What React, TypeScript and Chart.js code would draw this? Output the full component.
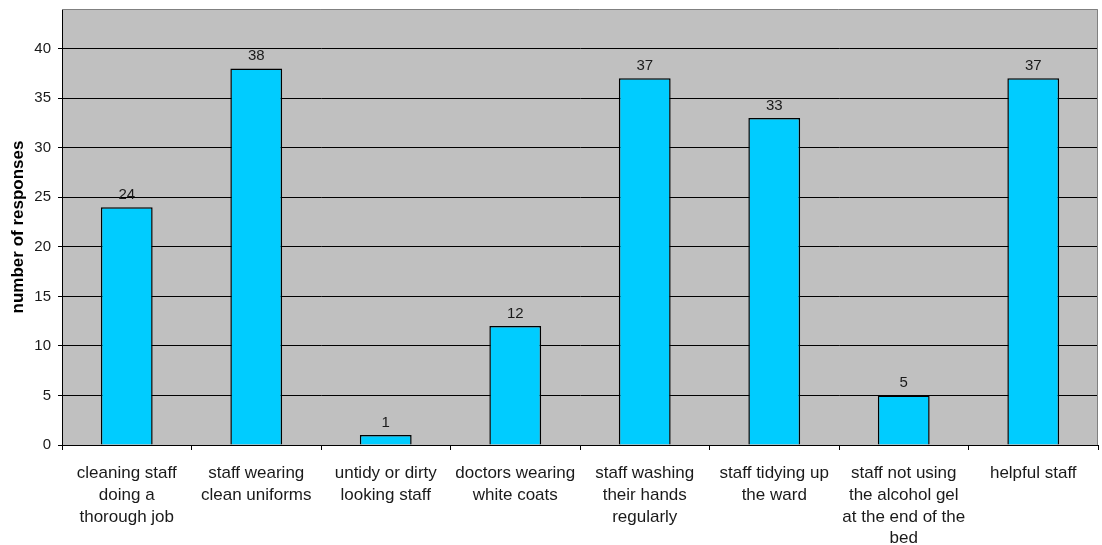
import React, { useEffect, useRef } from "react";
import { Chart, registerables } from "chart.js";

Chart.register(...registerables);

const categories: string[][] = [
  ["cleaning staff", "doing a", "thorough job"],
  ["staff wearing", "clean uniforms"],
  ["untidy or dirty", "looking staff"],
  ["doctors wearing", "white coats"],
  ["staff washing", "their hands", "regularly"],
  ["staff tidying up", "the ward"],
  ["staff not using", "the alcohol gel", "at the end of the", "bed"],
  ["helpful staff"],
];
const responses: number[] = [24, 38, 1, 12, 37, 33, 5, 37];
const yTickValues: number[] = [0, 5, 10, 15, 20, 25, 30, 35, 40];
const yAxisTitle = "number of responses";

const FONT = "'Liberation Sans', Arial, Helvetica, sans-serif";

const plotBg = {
  id: "plotBg",
  beforeDraw(chart: any) {
    const { ctx, chartArea: a } = chart;
    ctx.save();
    ctx.fillStyle = "#C0C0C0";
    ctx.fillRect(a.left, a.top, a.right - a.left, a.bottom - a.top);
    ctx.restore();
  },
  afterDraw(chart: any) {
    const { ctx, chartArea: a } = chart;
    ctx.save();
    ctx.strokeStyle = "#808080";
    ctx.lineWidth = 1;
    ctx.beginPath();
    ctx.moveTo(a.left, a.top + 0.5);
    ctx.lineTo(a.right - 0.5, a.top + 0.5);
    ctx.lineTo(a.right - 0.5, a.bottom);
    ctx.stroke();
    ctx.restore();
  },
};

const valueLabels = {
  id: "valueLabels",
  afterDatasetsDraw(chart: any) {
    const { ctx } = chart;
    const meta = chart.getDatasetMeta(0);
    const data = chart.data.datasets[0].data as number[];
    ctx.save();
    ctx.fillStyle = "#1a1a1a";
    ctx.font = `15px ${FONT}`;
    ctx.textAlign = "center";
    ctx.textBaseline = "alphabetic";
    meta.data.forEach((el: any, i: number) => {
      ctx.fillText(String(data[i]), el.x, el.y - 8);
    });
    ctx.restore();
  },
};

export default function App() {
  const ref = useRef<HTMLCanvasElement | null>(null);
  useEffect(() => {
    if (!ref.current) return;
    const chart = new Chart(ref.current, {
      type: "bar",
      data: {
        labels: categories,
        datasets: [
          {
            data: responses,
            backgroundColor: "#00CCFF",
            borderColor: "#000000",
            borderWidth: 1.5,
            categoryPercentage: 0.8,
            barPercentage: 0.5,
          },
        ],
      },
      options: {
        animation: false,
        responsive: false,
        maintainAspectRatio: false,
        layout: { padding: { top: 9, right: 4, left: 0, bottom: 0 } },
        plugins: { legend: { display: false }, tooltip: { enabled: false } },
        scales: {
          x: {
            grid: {
              display: true,
              drawOnChartArea: false,
              drawTicks: true,
              tickLength: 5,
              color: "#000",
              offset: true,
            },
            border: { display: true, color: "#000", width: 1 },
            ticks: {
              color: "#1a1a1a",
              font: { family: FONT, size: 17, lineHeight: 1.27 },
              maxRotation: 0,
              minRotation: 0,
              autoSkip: false,
              padding: 13,
            },
            afterFit(scale: any) {
              scale.height = 100;
              scale.paddingLeft = 0;
              scale.paddingRight = 0;
            },
          },
          y: {
            min: 0,
            max: 44,
            afterBuildTicks(scale: any) {
              scale.ticks = yTickValues.map((v) => ({ value: v }));
            },
            grid: { color: "#000", tickLength: 4, lineWidth: 1 },
            border: { display: true, color: "#000", width: 1 },
            ticks: {
              color: "#1a1a1a",
              font: { family: FONT, size: 15 },
              padding: 7,
            },
            title: {
              display: true,
              text: yAxisTitle,
              color: "#000",
              font: { family: FONT, size: 17, weight: "bold" },
              padding: { top: 8, bottom: 0 },
            },
            afterFit(scale: any) {
              scale.width = 62;
              scale.paddingTop = 0;
              scale.paddingBottom = 0;
            },
          },
        },
      },
      plugins: [plotBg, valueLabels],
    } as any);
    return () => chart.destroy();
  }, []);
  return (
    <div style={{ position: "fixed", left: 0, top: 0, width: 1102, height: 545, background: "#fff" }}>
      <canvas ref={ref} width={1102} height={545} style={{ width: 1102, height: 545 }} />
    </div>
  );
}
